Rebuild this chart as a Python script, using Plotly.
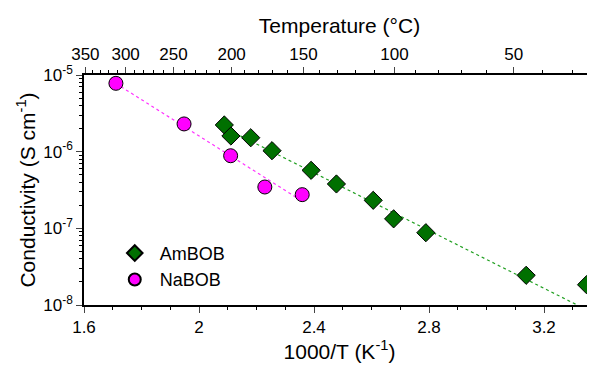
import numpy as np
import plotly.graph_objects as go

# --- data ---
am_x = [2.088, 2.111, 2.180, 2.254, 2.390, 2.478, 2.606, 2.677, 2.789, 3.138, 3.348]
am_y = [2.23e-6, 1.60e-6, 1.52e-6, 1.03e-6, 5.71e-7, 3.79e-7, 2.32e-7, 1.33e-7, 8.77e-8, 2.44e-8, 1.84e-8]
na_x = [1.711, 1.948, 2.110, 2.229, 2.359]
na_y = [7.79e-6, 2.30e-6, 8.85e-7, 3.46e-7, 2.75e-7]
temp_major = [350, 300, 250, 200, 150, 100, 50]
temp_minor = [t for t in range(340, 20, -10) if t % 50 != 0]
y_ticks = [1e-8, 1e-7, 1e-6, 1e-5]
y_ticktext = ["10<sup>-8</sup>", "10<sup>-7</sup>", "10<sup>-6</sup>", "10<sup>-5</sup>"]

FONT = "Arial, Liberation Sans, sans-serif"
GREEN = "#007000"
MAGENTA = "#ff00ff"

# Arrhenius-type linear fits in log space
am_fit = np.polyfit(am_x[:-1], np.log10(am_y[:-1]), 1)
na_fit = np.polyfit(na_x, np.log10(na_y), 1)
am_fx = np.linspace(min(am_x), 3.4, 50)
na_fx = np.linspace(min(na_x), max(na_x), 50)

fig = go.Figure()
fig.add_trace(go.Scatter(x=am_fx, y=10 ** np.polyval(am_fit, am_fx), mode="lines",
                         line=dict(color="#22a022", width=1.2, dash="dot"),
                         showlegend=False, hoverinfo="skip"))
fig.add_trace(go.Scatter(x=na_fx, y=10 ** np.polyval(na_fit, na_fx), mode="lines",
                         line=dict(color="#ff33ff", width=1.2, dash="dot"),
                         showlegend=False, hoverinfo="skip"))
fig.add_trace(go.Scatter(x=am_x, y=am_y, mode="markers", name="AmBOB",
                         marker=dict(symbol="diamond", size=14, color=GREEN,
                                     line=dict(color="black", width=1)),
                         cliponaxis=False))
fig.add_trace(go.Scatter(x=na_x, y=na_y, mode="markers", name="NaBOB",
                         marker=dict(symbol="circle", size=14, color=MAGENTA,
                                     line=dict(color="black", width=1)),
                         cliponaxis=False))
# invisible trace to activate top axis
fig.add_trace(go.Scatter(x=[1.7], y=[1e-6], xaxis="x2", mode="markers",
                         marker=dict(opacity=0), showlegend=False, hoverinfo="skip"))

xr = [1.6, 1.6 + 511 / 287.5]
fig.update_layout(
    width=587, height=360,
    margin=dict(l=76, r=0, t=67, b=63, autoexpand=False),
    paper_bgcolor="white", plot_bgcolor="white",
    font=dict(family=FONT, size=17, color="black"),
    xaxis=dict(range=xr, tick0=1.6, dtick=0.4, ticks="outside", ticklen=6, tickwidth=1.2,
               showline=True, linecolor="black", linewidth=1.5, showgrid=False, zeroline=False,
               minor=dict(dtick=0.1, tick0=1.6, ticks="outside", ticklen=3, tickwidth=1, tickcolor="black"),
               tickfont=dict(size=17),
               title=dict(text="1000/T (K<sup>-1</sup>)", font=dict(size=21), standoff=8)),
    xaxis2=dict(range=xr, overlaying="x", side="top", anchor="y",
                tickmode="array", tickvals=[1000 / (t + 273.15) for t in temp_major],
                ticktext=[str(t) for t in temp_major],
                ticks="outside", ticklen=6, tickwidth=1.2,
                showline=True, linecolor="black", linewidth=1.5, showgrid=False, zeroline=False,
                minor=dict(tickvals=[1000 / (t + 273.15) for t in temp_minor], ticks="outside",
                           ticklen=3, tickwidth=1, tickcolor="black"),
                tickfont=dict(size=17),
                title=dict(text="Temperature (°C)", font=dict(size=21), standoff=6)),
    yaxis=dict(type="log", range=[-8, -5], tickmode="array", tickvals=y_ticks, ticktext=y_ticktext,
               ticks="outside", ticklen=6, tickwidth=1.2,
               showline=True, linecolor="black", linewidth=1.5, showgrid=False, zeroline=False,
               minor=dict(tickvals=[k * 10.0 ** e for e in range(-8, -5) for k in range(2, 10)],
                          ticks="outside", ticklen=3, tickwidth=1, tickcolor="black"),
               tickfont=dict(size=17),
               title=dict(text="Conductivity (S cm<sup>-1</sup>)", font=dict(size=21), standoff=2)),
    legend=dict(x=0.0504, y=0.305, xanchor="left", yanchor="top", bgcolor="rgba(0,0,0,0)",
                font=dict(size=18), tracegroupgap=0, itemsizing="constant", itemwidth=40),
)
fig.write_html("out.html")
